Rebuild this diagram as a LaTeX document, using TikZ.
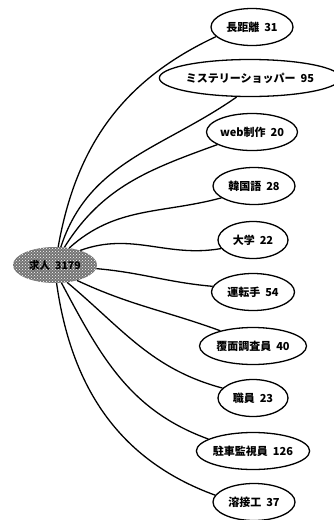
\documentclass[tikz,border=0pt]{standalone}
\usepackage{fontspec}
\newfontfamily\jp{Noto Sans CJK JP}
\usetikzlibrary{shapes.geometric,patterns}
\newcommand{\gp}{\hspace{5pt}}
\begin{document}
\begin{tikzpicture}[x=1pt,y=-1pt,
  leaf/.style={draw, ellipse, line width=1.3pt, minimum width=#1, minimum height=37pt, inner sep=0pt,
    font=\jp\bfseries\fontsize{11}{12}\selectfont},
  link/.style={line width=1.3pt}]
\useasboundingbox (0,0) rectangle (334,520);
\node[ellipse, fill=black!55, postaction={pattern=crosshatch dots, pattern color=white},
  minimum width=84pt, minimum height=36pt, inner sep=0pt] (c) at (55,265) {};
\node[font=\jp\bfseries\fontsize{10.5}{12}\selectfont] at (c.center) {求人\gp 3179};
\node[leaf=82pt] (n1) at (252,27) {長距離\gp 31};
\node[leaf=162pt] (n2) at (250,78) {ミステリーショッパー\gp 95};
\node[leaf=91pt] (n3) at (252,132) {web制作\gp 20};
\node[leaf=82pt] (n4) at (254,186) {韓国語\gp 28};
\node[leaf=70pt] (n5) at (253,240) {大学\gp 22};
\node[leaf=83pt] (n6) at (253,292) {運転手\gp 54};
\node[leaf=107pt] (n7) at (253,346) {覆面調査員\gp 40};
\node[leaf=70pt] (n8) at (253,398) {職員\gp 23};
\node[leaf=113pt] (n9) at (253,451) {駐車監視員\gp 126};
\node[leaf=82pt] (n10) at (254,502) {溶接工\gp 37};
\draw[link] (c.80) to[out=80, in=205] (n1.195);
\draw[link] (c.72) to[out=72, in=215] (n2.235);
\draw[link] (c.62) to[out=58, in=200] (n3.200);
\draw[link] (c.50) to[out=42, in=195] (n4.200);
\draw[link] (c.30) to[out=20, in=190] (n5.195);
\draw[link] (c.-5) to[out=-5, in=175] (n6.172);
\draw[link] (c.-35) to[out=-25, in=160] (n7.155);
\draw[link] (c.-55) to[out=-40, in=165] (n8.162);
\draw[link] (c.-70) to[out=-62, in=160] (n9.165);
\draw[link] (c.-85) to[out=-82, in=160] (n10.170);
\end{tikzpicture}
\end{document}
